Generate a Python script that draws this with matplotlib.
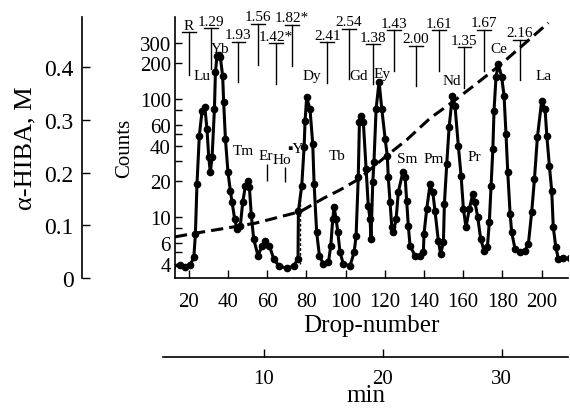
import matplotlib
matplotlib.use('Agg')
import matplotlib.pyplot as plt

plt.rcParams['font.family'] = ['Liberation Serif', 'DejaVu Serif']
plt.rcParams['mathtext.fontset'] = 'stix'

# chromatogram (drop number, counts)
drops = [11.6, 15.7, 18.2, 20.8, 22.7, 23.5, 24.3, 25.5, 26.9, 28.3, 29.4, 30.3, 31.1, 32.0,
         33.2, 33.7, 34.5, 35.4, 36.2, 37.4, 37.9, 38.8, 40.1, 41.3, 42.2, 43.5, 44.7, 46.4,
         47.6, 49.0, 50.2, 51.0, 52.0, 53.2, 55.4, 57.5, 59.1, 61.2, 63.4, 66.0, 70.2, 73.6,
         75.8, 76.0, 77.7, 78.9, 79.4, 80.2, 81.9, 83.3, 84.0, 85.3, 86.7, 88.7, 91.3, 92.5,
         93.5, 94.2, 95.2, 96.1, 97.2, 98.9, 102.3, 104.4, 105.4, 106.5, 107.1, 107.8, 109.1,
         110.5, 111.6, 112.5, 113.0, 113.9, 114.5, 115.6, 117.1, 118.5, 120.2, 121.3, 121.8,
         122.7, 123.6, 124.4, 125.8, 126.9, 129.2, 130.4, 131.2, 132.0, 132.9, 135.4, 138.0,
         139.7, 140.0, 141.4, 143.1, 144.5, 145.6, 147.3, 148.5, 149.9, 150.4, 151.6, 152.8,
         154.5, 155.8, 157.5, 158.9, 160.1, 161.4, 163.1, 164.9, 166.0, 167.4, 168.9, 170.6,
         172.3, 173.3, 174.2, 175.1, 175.7, 176.7, 177.9, 179.6, 180.8, 181.8, 182.7, 183.9,
         184.7, 186.4, 189.0, 191.5, 193.2, 194.9, 196.3, 197.8, 200.0, 201.7, 202.6, 203.9,
         205.1, 205.9, 207.2, 208.5, 211.0, 214.4]
counts = [3.86, 3.9, 3.8, 3.9, 4.55, 7.18, 19.0, 48.9, 79.6, 85.1, 55.7, 32.1, 23.9, 32.1,
          82.3, 168, 233, 236, 225, 157, 93.8, 45.8, 23.9, 16.7, 13.3, 9.62, 7.91, 8.44,
          13.3, 18.4, 20.3, 17.9, 10.3, 6.51, 4.70, 5.71, 6.30, 5.71, 4.41, 3.86, 3.67, 3.86,
          4.41, 11.3, 18.4, 39.0, 65.5, 103, 82.3, 41.6, 19.0, 7.42, 4.70, 4.0, 4.13, 5.71,
          9.62, 12.1, 9.62, 7.42, 5.02, 4.0, 3.86, 5.02, 6.95, 21.7, 63.5, 72.1, 63.5,
          25.5, 12.5, 9.62, 6.51, 19.7, 29.1, 82.3, 140, 82.3, 45.8, 33.1, 21.7,
          13.3, 8.18, 7.42, 9.62, 16.2, 23.9, 21.7, 13.7, 8.44, 5.71, 4.70, 4.70,
          5.02, 7.18, 11.7, 19.0, 16.2, 11.3, 6.30, 4.86, 6.11, 12.9, 28.1, 57.5,
          107, 87.7, 40.2, 22.4, 11.7, 8.18, 11.7, 15.7, 13.3, 9.94, 6.51, 5.18,
          5.53, 9.02, 18.4, 37.7, 79.6, 153, 198, 153, 107, 50.5, 23.9, 10.6,
          7.42, 5.36, 5.02, 5.18, 5.90, 11.0, 21.0, 47.4, 96.8, 82.3, 48.9, 27.2,
          16.7, 8.18, 5.53, 4.41, 4.45, 4.45]

# alpha-HIBA gradient
grad_drops = [13.1, 23.5, 43.9, 54.1, 77.0, 88.7, 97.2, 107.4, 114.2, 122.7, 131.2, 143.1,
              155.0, 166.9, 177.1, 182.2, 203.4]
grad_hiba = [0.078, 0.085, 0.0975, 0.104, 0.126, 0.151, 0.167, 0.189, 0.211, 0.237, 0.262,
             0.303, 0.335, 0.369, 0.399, 0.415, 0.484]

# element labels (text, drop, counts)
elem_names = ['Lu', 'Yb', 'Tm', 'Er', 'Ho', '▪Y', 'Dy', 'Tb', 'Gd', 'Ey', 'Sm', 'Pm', 'Nd',
              'Pr', 'Ce', 'La']
elem_x = [26.9, 36.1, 48.1, 59.3, 67.6, 74.6, 82.8, 95.6, 106.9, 118.5, 131.2, 144.8, 154.2,
          165.5, 178.0, 200.8]
elem_y = [157, 270, 36.5, 33.1, 30.6, 38.2, 157, 33.1, 157, 163, 31.0, 31.6, 143,
          32.7, 269, 157]

# top markers: label, drop, top, bottom (counts)
mark_labels = ['R', '1.29', '1.93', '1.56', '1.42*', '1.82*', '2.41', '2.54', '1.38', '1.43',
               '2.00', '1.61', '1.35', '1.67', '2.16']
mark_x = [20.3, 31.3, 45.4, 55.3, 64.6, 72.6, 90.7, 101.8, 113.9, 124.9, 135.8, 147.8, 160.6,
          170.6, 189.0]
mark_top = [367, 397, 306, 432, 297, 424, 302, 392, 292, 384, 283, 384, 274, 387, 318]
mark_bot = [160, 180, 139, 194, 134, 191, 136, 148, 134, 174, 128, 174, 123, 174, 146]

# small ticks under Er and Ho
sub_x = [60.2, 69.2]
sub_top = [28.1, 26.4]
sub_bot = [20.3, 19.7]

count_ticks = [4, 5, 6, 8, 10, 20, 30, 40, 50, 60, 80, 100, 200, 300]
count_labels = ['4', '', '6', '', '10', '20', '', '40', '', '60', '', '100', '200', '300']
drop_ticks = [20, 40, 60, 80, 100, 120, 140, 160, 180, 200]
hiba_ticks = [0, 0.1, 0.2, 0.3, 0.4]
min_ticks = [10, 20, 30]

fig = plt.figure(figsize=(5.7, 4.1), dpi=100)
ax = fig.add_axes([175 / 570, 1 - 279 / 410, 393 / 570, 261 / 410])

ax.plot(drops, counts, '-o', color='black', lw=2.2, ms=4.5, zorder=3)
ax.plot([76.8, 76.8], [14.2, 4.0], color='black', lw=1, ls=(0, (2, 1.5)))
ax.set_yscale('log')
ax.set_xlim(13.1, 213.4)
ax.set_ylim(3.04, 495)
ax.set_yticks(count_ticks)
ax.set_yticklabels(count_labels)
ax.minorticks_off()
ax.set_xticks(drop_ticks)
ax.tick_params(axis='y', direction='in', length=5, width=1, labelsize=15, pad=3)
ax.tick_params(axis='x', direction='in', length=6, width=1, labelsize=15, pad=10)
for s in ['top', 'right']:
    ax.spines[s].set_visible(False)
for s in ['left', 'bottom']:
    ax.spines[s].set_linewidth(1.2)
ax.set_xlabel('Drop-number', fontsize=18, labelpad=2)
ax.set_ylabel('Counts', fontsize=15, labelpad=4)

for name, x, y in zip(elem_names, elem_x, elem_y):
    ax.text(x, y, name, fontsize=11, ha='center', va='center',
            family=['Liberation Serif', 'DejaVu Sans'], zorder=4)

for lab, x, t, b in zip(mark_labels, mark_x, mark_top, mark_bot):
    ax.plot([x, x], [b, t], color='black', lw=1, clip_on=False)
    ax.plot([x - 3.5, x + 3.5], [t, t], color='black', lw=1, clip_on=False)
    ax.text(x, t * 1.01, lab, fontsize=11, ha='center', va='bottom', clip_on=False)

ax.vlines(sub_x, sub_bot, sub_top, color='black', lw=1)

# alpha-HIBA axis on the far left
ax_h = ax.twinx()
ax_h.yaxis.tick_left()
ax_h.yaxis.set_label_position('left')
ax_h.spines['left'].set_position(('axes', -93 / 393))
for s in ['top', 'right', 'bottom']:
    ax_h.spines[s].set_visible(False)
ax_h.spines['left'].set_linewidth(1.2)
ax_h.plot(grad_drops, grad_hiba, color='black', lw=2.2, ls=(0, (4, 2)), zorder=2)
ax_h.set_ylim(0, 0.495)
ax_h.set_yticks(hiba_ticks)
ax_h.set_yticklabels(['0', '0.1', '0.2', '0.3', '0.4'])
ax_h.tick_params(axis='y', direction='in', length=6, width=1, labelsize=17, pad=6)
ax_h.set_ylabel('α-HIBA, M', fontsize=19, labelpad=6)

# time axis below
ax_t = fig.add_axes([163 / 570, 1 - 358 / 410, 405 / 570, 0.001])
ax_t.set_xlim(1.5, 35.58)
ax_t.set_xticks(min_ticks)
ax_t.set_yticks([])
for s in ['top', 'right', 'left']:
    ax_t.spines[s].set_visible(False)
ax_t.spines['bottom'].set_linewidth(1.2)
ax_t.tick_params(axis='x', direction='in', length=6, width=1, labelsize=15, pad=9)
ax_t.set_xlabel('min', fontsize=18, labelpad=-3)
ax_t.patch.set_visible(False)

fig.savefig('out.png', dpi=100)
